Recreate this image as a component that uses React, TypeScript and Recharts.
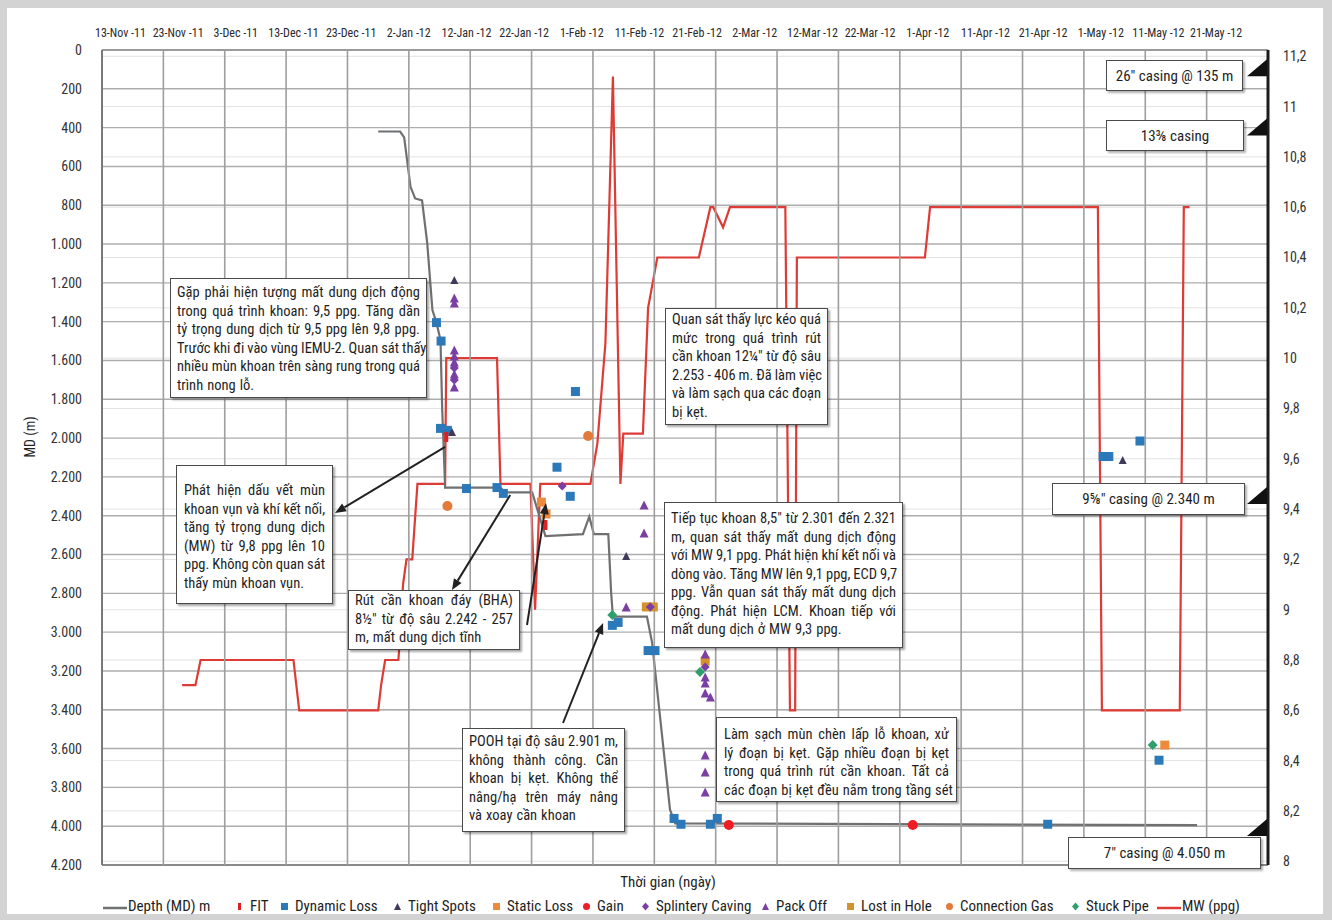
import {
  CartesianGrid,
  ComposedChart,
  Line,
  ReferenceDot,
  ReferenceLine,
  Scatter,
  XAxis,
  YAxis,
} from 'recharts'

const FONT = '"Liberation Sans Narrow", "Roboto Condensed", "DejaVu Sans Condensed", "Open Sans", sans-serif'

// day 0 = 13-Nov-2011
const DATE_TICKS = [0, 10, 20, 30, 40, 50, 60, 70, 80, 90, 100, 110, 120, 130, 140, 150, 160, 170, 180, 190]
const DATE_LABELS = [
  '13-Nov -11', '23-Nov -11', '3-Dec -11', '13-Dec -11', '23-Dec -11',
  '2-Jan -12', '12-Jan -12', '22-Jan -12', '1-Feb -12', '11-Feb -12',
  '21-Feb -12', '2-Mar -12', '12-Mar -12', '22-Mar -12', '1-Apr -12',
  '11-Apr -12', '21-Apr -12', '1-May -12', '11-May -12', '21-May -12',
]
const GRID_DIVISIONS = 19
const DEPTH_TICKS = [0, 200, 400, 600, 800, 1000, 1200, 1400, 1600, 1800, 2000, 2200, 2400, 2600, 2800, 3000, 3200, 3400, 3600, 3800, 4000, 4200]
const MW_TICKS = [8, 8.2, 8.4, 8.6, 8.8, 9, 9.2, 9.4, 9.6, 9.8, 10, 10.2, 10.4, 10.6, 10.8, 11, 11.2]

// Depth (MD) trace
const DEPTH_DAYS = [44.7, 48.5, 49.2, 50.3, 51.1, 52.3, 53.2, 54.1, 54.8, 55.5, 55.8, 56.0, 56.3, 65.9, 66.7, 71.4, 73.7, 80.2, 81.3, 82.1, 84.6, 85.1, 85.4, 91.3, 92.2, 95.3, 96.2, 186.7]
const DEPTH_MD = [420, 420, 450, 705, 765, 775, 995, 1340, 1405, 1495, 1855, 2010, 2255, 2255, 2280, 2280, 2505, 2495, 2405, 2495, 2495, 2800, 2920, 2920, 3055, 3915, 3985, 3995]

// Mud weight trace (ppg)
const MW_DAYS = [10.7, 13.0, 13.9, 30.0, 31.0, 44.7, 45.2, 45.9, 48.2, 48.5, 49.0, 49.6, 50.6, 51.5, 56.3, 56.5, 65.3, 65.9, 71.1, 71.9, 72.8, 81.5, 82.7, 84.1, 85.4, 86.7, 87.2, 90.6, 91.5, 93.1, 100.3, 102.3, 102.8, 104.5, 105.7, 115.3, 116.1, 117.0, 117.3, 139.5, 140.4, 169.5, 170.2, 183.7, 184.4, 185.4]
const MW_PPG = [8.7, 8.7, 8.8, 8.8, 8.6, 8.6, 8.7, 8.8, 8.8, 8.9, 9.1, 9.2, 9.2, 9.5, 9.5, 10.0, 10.0, 9.5, 9.5, 9.0, 9.5, 9.5, 9.66, 10.06, 11.12, 9.5, 9.7, 9.7, 10.2, 10.4, 10.4, 10.6, 10.6, 10.52, 10.6, 10.6, 8.6, 8.6, 10.4, 10.4, 10.6, 10.6, 8.6, 8.6, 10.6, 10.6]

// Events (day, depth)
const DYNAMIC_LOSS_DAYS = [54.8, 55.6, 55.5, 56.7, 60.0, 65.3, 66.4, 75.7, 78.0, 78.9, 85.3, 86.3, 91.5, 92.7, 96.0, 97.2, 102.3, 103.5, 160.8, 170.4, 171.4, 176.8, 180.1]
const DYNAMIC_LOSS_MD = [1405, 1500, 1950, 1960, 2260, 2255, 2285, 2150, 2300, 1760, 2965, 2950, 3095, 3095, 3960, 3990, 3990, 3960, 3990, 2095, 2095, 2015, 3660]
const TIGHT_SPOT_DAYS = [57.9, 57.5, 87.7, 173.8]
const TIGHT_SPOT_MD = [1185, 1969, 2608, 2113]
const PACK_OFF_DAYS = [57.9, 57.9, 57.9, 57.9, 57.9, 57.9, 57.9, 90.8, 90.8, 87.7, 101.4, 101.4, 101.4, 101.4, 102.3, 101.4, 101.4, 101.4]
const PACK_OFF_MD = [1278, 1304, 1546, 1577, 1608, 1670, 1737, 2345, 2489, 2870, 3113, 3231, 3262, 3314, 3334, 3633, 3721, 3824]
const CAVING_DAYS = [57.9, 57.9, 76.6, 91.9, 101.4]
const CAVING_MD = [1639, 1700, 2247, 2870, 3180]
const STATIC_LOSS_DAYS = [73.0, 73.8, 181.1]
const STATIC_LOSS_MD = [2330, 2391, 3582]
const LOST_IN_HOLE_DAYS = [91.2, 92.4, 101.4]
const LOST_IN_HOLE_MD = [2870, 2870, 3149]
const GAIN_DAYS = [105.5, 137.4]
const GAIN_MD = [3994, 3994]
const FIT_DAYS = [56.5, 73.7]
const FIT_MD = [1994, 2448]
const CONN_GAS_DAYS = [56.7, 81.1]
const CONN_GAS_MD = [2350, 1989]
const STUCK_PIPE_DAYS = [85.3, 100.5, 179.0]
const STUCK_PIPE_MD = [2912, 3205, 3582]

// Casing shoes (MD)
const CASING_MD = [135, 440, 2340, 4050]

const DAY_MIN = -3.2
const DAY_MAX = 199
const MD_MAX = 4200

const CHART_W = 1332
const CHART_H = 920
const MARGIN = { top: 20, right: 14, bottom: 55, left: 32 }
const TOP_AXIS_H = 30
const PLOT_H = CHART_H - MARGIN.top - MARGIN.bottom - TOP_AXIS_H

// vertical grid splits the plot into equal columns, not tied to the date ticks
const GRID_DAYS = Array.from(
  { length: GRID_DIVISIONS + 1 },
  (_, k) => DAY_MIN + (k * (DAY_MAX - DAY_MIN)) / GRID_DIVISIONS,
)

const C = {
  depth: '#6f7072',
  mw: '#dd3b35',
  blue: '#2b79b8',
  tight: '#3f3a5c',
  purple: '#7a3fa3',
  staticLoss: '#ee8a3c',
  lostInHole: '#d4922f',
  gain: '#ee1c24',
  fit: '#e02020',
  gas: '#e27a3a',
  stuck: '#2f9e6b',
  grid: '#adadad',
}

const zip = (days: number[], md: number[]) => days.map((day, i) => ({ day, depth: md[i] }))

const depthData = zip(DEPTH_DAYS, DEPTH_MD)
const mwData = MW_DAYS.map((day, i) => ({ day, mw: MW_PPG[i] }))

type ShapeProps = { cx?: number; cy?: number }

const square = (color: string, s = 9) => (p: ShapeProps) => (
  <rect x={(p.cx ?? 0) - s / 2} y={(p.cy ?? 0) - s / 2} width={s} height={s} fill={color} />
)
const triangle = (color: string, s = 9) => (p: ShapeProps) => {
  const x = p.cx ?? 0
  const y = p.cy ?? 0
  return <polygon points={`${x},${y - s / 2} ${x + s / 2},${y + s / 2} ${x - s / 2},${y + s / 2}`} fill={color} />
}
const diamond = (color: string, s = 9) => (p: ShapeProps) => {
  const x = p.cx ?? 0
  const y = p.cy ?? 0
  return <polygon points={`${x},${y - s / 2} ${x + s / 2},${y} ${x},${y + s / 2} ${x - s / 2},${y}`} fill={color} />
}
const circle = (color: string, r = 5) => (p: ShapeProps) => <circle cx={p.cx} cy={p.cy} r={r} fill={color} />
const bar = (color: string) => (p: ShapeProps) => (
  <rect x={(p.cx ?? 0) - 2} y={(p.cy ?? 0) - 5} width={4} height={10} fill={color} />
)

const EVENTS = [
  { name: 'Dynamic Loss', data: zip(DYNAMIC_LOSS_DAYS, DYNAMIC_LOSS_MD), shape: square(C.blue) },
  { name: 'Static Loss', data: zip(STATIC_LOSS_DAYS, STATIC_LOSS_MD), shape: square(C.staticLoss) },
  { name: 'Lost in Hole', data: zip(LOST_IN_HOLE_DAYS, LOST_IN_HOLE_MD), shape: square(C.lostInHole) },
  { name: 'Stuck Pipe', data: zip(STUCK_PIPE_DAYS, STUCK_PIPE_MD), shape: diamond(C.stuck, 10) },
  { name: 'Connection Gas', data: zip(CONN_GAS_DAYS, CONN_GAS_MD), shape: circle(C.gas) },
  { name: 'Tight Spots', data: zip(TIGHT_SPOT_DAYS, TIGHT_SPOT_MD), shape: triangle(C.tight, 8) },
  { name: 'Pack Off', data: zip(PACK_OFF_DAYS, PACK_OFF_MD), shape: triangle(C.purple, 9) },
  { name: 'Splintery Caving', data: zip(CAVING_DAYS, CAVING_MD), shape: diamond(C.purple, 9) },
  { name: 'FIT', data: zip(FIT_DAYS, FIT_MD), shape: bar(C.fit) },
  { name: 'Gain', data: zip(GAIN_DAYS, GAIN_MD), shape: circle(C.gain) },
]

// callout arrows: anchor in chart units, other end in page pixels
const ARROWS = [
  { day: 56.3, depth: 2045, tx: 335, ty: 513, headAtAnchor: false },
  { day: 67.6, depth: 2293, tx: 452, ty: 590, headAtAnchor: false },
  { day: 73.8, depth: 2335, tx: 527, ty: 625, headAtAnchor: true },
  { day: 83.7, depth: 2953, tx: 563, ty: 723, headAtAnchor: true },
]

const arrowShape = (tx: number, ty: number, headAtAnchor: boolean) => (p: ShapeProps) => {
  const ax = p.cx ?? 0
  const ay = p.cy ?? 0
  const [hx, hy, fx, fy] = headAtAnchor ? [ax, ay, tx, ty] : [tx, ty, ax, ay]
  const ang = Math.atan2(hy - fy, hx - fx)
  const L = 11
  const W = 4.5
  const bx = hx - L * Math.cos(ang)
  const by = hy - L * Math.sin(ang)
  const p1 = `${bx + W * Math.sin(ang)},${by - W * Math.cos(ang)}`
  const p2 = `${bx - W * Math.sin(ang)},${by + W * Math.cos(ang)}`
  return (
    <g>
      <line x1={fx} y1={fy} x2={bx} y2={by} stroke="#222" strokeWidth={2} />
      <polygon points={`${hx},${hy} ${p1} ${p2}`} fill="#222" />
    </g>
  )
}

const shoeShape = (p: ShapeProps) => {
  const x = (p.cx ?? 0) - 1
  const y = p.cy ?? 0
  return <polygon points={`${x - 20},${y} ${x},${y - 17} ${x},${y}`} fill="#111" />
}

// a full-height vertical rule hung from the top of the plot
const vRule = (stroke: string, width: number) => (p: ShapeProps) => (
  <line x1={p.cx} x2={p.cx} y1={p.cy} y2={(p.cy ?? 0) + PLOT_H} stroke={stroke} strokeWidth={width} />
)

const NOTES = [
  {
    left: 170, top: 278, width: 257, height: 120, padTop: 5, padX: 6,
    lines: [
      'Gặp phải hiện tượng mất dung dịch động',
      'trong quá trình khoan: 9,5 ppg. Tăng dần',
      'tỷ trọng dung dịch từ 9,5 ppg lên 9,8 ppg.',
      'Trước khi đi vào vùng IEMU-2. Quan sát thấy',
      'nhiều mùn khoan trên sàng rung trong quá',
      'trình nong lỗ.',
    ],
  },
  {
    left: 176, top: 465, width: 157, height: 139, padTop: 16, padX: 7,
    lines: [
      'Phát hiện dấu vết mùn',
      'khoan vụn và khí kết nối,',
      'tăng tỷ trọng dung dịch',
      '(MW) từ 9,8 ppg lên 10',
      'ppg. Không còn quan sát',
      'thấy mùn khoan vụn.',
    ],
  },
  {
    left: 348, top: 590, width: 172, height: 60, padTop: 1, padX: 6,
    lines: ['Rút cần khoan đáy (BHA)', '8½" từ độ sâu 2.242 - 257', 'm, mất dung dịch tĩnh'],
  },
  {
    left: 462, top: 728, width: 163, height: 104, padTop: 4, padX: 6,
    lines: [
      'POOH tại độ sâu 2.901 m,',
      'không thành công. Cần',
      'khoan bị kẹt. Không thể',
      'nâng/hạ trên máy nâng',
      'và xoay cần khoan',
    ],
  },
  {
    left: 665, top: 308, width: 163, height: 117, padTop: 2, padX: 6,
    lines: [
      'Quan sát thấy lực kéo quá',
      'mức trong quá trình rút',
      'cần khoan 12¼" từ độ sâu',
      '2.253 - 406 m. Đã làm việc',
      'và làm sạch qua các đoạn',
      'bị kẹt.',
    ],
  },
  {
    left: 664, top: 502, width: 239, height: 146, padTop: 7, padX: 6,
    lines: [
      'Tiếp tục khoan 8,5" từ 2.301 đến 2.321',
      'm, quan sát thấy mất dung dịch động',
      'với MW 9,1 ppg. Phát hiện khí kết nối và',
      'dòng vào. Tăng MW lên 9,1 ppg, ECD 9,7',
      'ppg. Vẫn quan sát thấy mất dung dịch',
      'động. Phát hiện LCM. Khoan tiếp với',
      'mất dung dịch ở MW 9,3 ppg.',
    ],
  },
  {
    left: 716, top: 717, width: 241, height: 85, padTop: 8, padX: 7,
    lines: [
      'Làm sạch mùn chèn lấp lỗ khoan, xử',
      'lý đoạn bị kẹt. Gặp nhiều đoạn bị kẹt',
      'trong quá trình rút cần khoan. Tất cả',
      'các đoạn bị kẹt đều nằm trong tầng sét',
    ],
  },
]

const CASING_NOTES = [
  { left: 1106, top: 60, width: 137, height: 31, text: '26" casing @ 135 m' },
  { left: 1106, top: 120, width: 138, height: 31, text: '13⅜ casing' },
  { left: 1052, top: 483, width: 193, height: 32, text: '9⅝" casing @ 2.340 m' },
  { left: 1068, top: 837, width: 193, height: 32, text: '7" casing @ 4.050 m' },
]

const LEGEND = [
  { name: 'Depth (MD) m', x: 103, kind: 'line', color: C.depth },
  { name: 'FIT', x: 234, kind: 'bar', color: C.fit },
  { name: 'Dynamic Loss', x: 279, kind: 'square', color: C.blue },
  { name: 'Tight Spots', x: 392, kind: 'triangle', color: C.tight },
  { name: 'Static Loss', x: 491, kind: 'square', color: C.staticLoss },
  { name: 'Gain', x: 581, kind: 'circle', color: C.gain },
  { name: 'Splintery Caving', x: 640, kind: 'diamond', color: C.purple },
  { name: 'Pack Off', x: 760, kind: 'triangle', color: C.purple },
  { name: 'Lost in Hole', x: 845, kind: 'square', color: C.lostInHole },
  { name: 'Connection Gas', x: 944, kind: 'circle', color: C.gas },
  { name: 'Stuck Pipe', x: 1070, kind: 'diamond', color: C.stuck },
  { name: 'MW (ppg)', x: 1157, kind: 'line', color: C.mw },
]

const fmtDepth = (v: number) => v.toLocaleString('de-DE')
const fmtMw = (v: number) => String(Number(v.toFixed(1))).replace('.', ',')

function Swatch({ kind, color }: { kind: string; color: string }) {
  if (kind === 'line') {
    return (
      <svg width={24} height={10}>
        <line x1={0} y1={7} x2={24} y2={7} stroke={color} strokeWidth={2.5} />
      </svg>
    )
  }
  const shapes: Record<string, JSX.Element> = {
    bar: <rect x={4} y={3} width={3} height={7} fill={color} />,
    square: <rect x={2} y={3} width={7} height={7} fill={color} />,
    triangle: <polygon points="5.5,3 9,10 2,10" fill={color} />,
    circle: <circle cx={5.5} cy={6.5} r={3.5} fill={color} />,
    diamond: <polygon points="5.5,2.5 9,6.5 5.5,10.5 2,6.5" fill={color} />,
  }
  return (
    <svg width={11} height={12}>
      {shapes[kind]}
    </svg>
  )
}

function Note({ note }: { note: (typeof NOTES)[number] }) {
  return (
    <div
      style={{
        position: 'absolute',
        left: note.left,
        top: note.top,
        width: note.width,
        height: note.height,
        boxSizing: 'border-box',
        border: '1.5px solid #4a4a4a',
        background: '#fff',
        boxShadow: '2px 2px 2px rgba(0,0,0,0.35)',
        padding: `${note.padTop}px ${note.padX}px 0 ${note.padX}px`,
        fontFamily: FONT,
        fontSize: 14.5,
        lineHeight: '18.5px',
        color: '#1e1e1e',
      }}
    >
      {note.lines.map((line, i) => {
        const last = i === note.lines.length - 1
        return (
          <div
            key={i}
            style={{
              display: 'flex',
              justifyContent: last ? 'flex-start' : 'space-between',
              columnGap: last ? 4 : 3,
              whiteSpace: 'nowrap',
            }}
          >
            {line.split(' ').map((w, j) => (
              <span key={j}>{w}</span>
            ))}
          </div>
        )
      })}
    </div>
  )
}

export default function App() {
  return (
    <div style={{ position: 'absolute', left: 0, top: 0, width: CHART_W, height: CHART_H, background: '#d3d3d3' }}>
      <div style={{ position: 'absolute', left: 7, top: 8, width: 1316, height: 906, background: '#fff' }} />
      <div style={{ position: 'absolute', left: 0, top: 0 }}>
        <ComposedChart width={CHART_W} height={CHART_H} margin={MARGIN}>
          <XAxis
            xAxisId="date"
            orientation="top"
            type="number"
            dataKey="day"
            domain={[DAY_MIN, DAY_MAX]}
            ticks={DATE_TICKS}
            tickFormatter={(v: number) => DATE_LABELS[DATE_TICKS.indexOf(v)] ?? ''}
            allowDataOverflow
            axisLine={false}
            tickLine={false}
            tickSize={0}
            tickMargin={13}
            height={TOP_AXIS_H}
            interval={0}
            tick={{ fill: '#2a2a2a', fontSize: 12, fontFamily: FONT }}
          />
          <YAxis
            yAxisId="depth"
            dataKey="depth"
            type="number"
            reversed
            domain={[0, MD_MAX]}
            ticks={DEPTH_TICKS}
            interval={0}
            allowDataOverflow
            width={70}
            axisLine={false}
            tickLine={false}
            tickSize={0}
            tickMargin={20}
            tickFormatter={fmtDepth}
            tick={{ fill: '#333', fontSize: 14, fontFamily: FONT }}
            label={{ value: 'MD (m)', angle: -90, position: 'insideLeft', offset: -2, fill: '#222', fontSize: 14, fontFamily: FONT }}
          />
          <YAxis
            yAxisId="mw"
            dataKey="mw"
            orientation="right"
            type="number"
            domain={[7.985, 11.225]}
            ticks={MW_TICKS}
            interval={0}
            allowDataOverflow
            width={50}
            axisLine={false}
            tickLine={false}
            tickSize={0}
            tickMargin={15}
            tickFormatter={fmtMw}
            tick={{ fill: '#333', fontSize: 14, fontFamily: FONT }}
          />

          <CartesianGrid xAxisId="date" yAxisId="mw" vertical={false} stroke="#e2e2e2" strokeWidth={1} />
          <CartesianGrid xAxisId="date" yAxisId="depth" vertical={false} stroke={C.grid} strokeWidth={1.4} />
          {GRID_DAYS.map((d, k) => (
            <ReferenceDot
              key={`g${k}`}
              xAxisId="date"
              yAxisId="depth"
              x={d}
              y={0}
              ifOverflow="visible"
              shape={
                k === 0
                  ? vRule('#7a7a7a', 2)
                  : k === GRID_DIVISIONS
                    ? vRule('#1c1c1c', 3)
                    : vRule('#9e9e9e', 1.6)
              }
            />
          ))}

          <ReferenceLine xAxisId="date" yAxisId="depth" y={0} stroke="#9a9a9a" strokeWidth={2} />
          <ReferenceLine xAxisId="date" yAxisId="depth" y={MD_MAX} stroke="#8a8a8a" strokeWidth={2} />

          <Line
            xAxisId="date"
            yAxisId="mw"
            data={mwData}
            dataKey="mw"
            type="linear"
            stroke={C.mw}
            strokeWidth={2.2}
            dot={false}
            isAnimationActive={false}
          />
          <Line
            xAxisId="date"
            yAxisId="depth"
            data={depthData}
            dataKey="depth"
            type="linear"
            stroke={C.depth}
            strokeWidth={2.2}
            dot={false}
            isAnimationActive={false}
          />

          {EVENTS.map((ev) => (
            <Scatter
              key={ev.name}
              name={ev.name}
              xAxisId="date"
              yAxisId="depth"
              data={ev.data}
              dataKey="depth"
              shape={ev.shape}
              isAnimationActive={false}
            />
          ))}

          {CASING_MD.map((md) => (
            <ReferenceDot
              key={md}
              xAxisId="date"
              yAxisId="depth"
              x={DAY_MAX}
              y={md}
              ifOverflow="visible"
              shape={shoeShape}
            />
          ))}

          {ARROWS.map((a, i) => (
            <ReferenceDot
              key={i}
              xAxisId="date"
              yAxisId="depth"
              x={a.day}
              y={a.depth}
              ifOverflow="visible"
              shape={arrowShape(a.tx, a.ty, a.headAtAnchor)}
            />
          ))}
        </ComposedChart>
      </div>

      {NOTES.map((n, i) => (
        <Note key={i} note={n} />
      ))}

      {CASING_NOTES.map((n) => (
        <div
          key={n.text}
          style={{
            position: 'absolute',
            left: n.left,
            top: n.top,
            width: n.width,
            height: n.height,
            boxSizing: 'border-box',
            border: '1.5px solid #4a4a4a',
            background: '#fff',
            boxShadow: '2px 2px 2px rgba(0,0,0,0.3)',
            display: 'flex',
            alignItems: 'center',
            justifyContent: 'center',
            fontFamily: FONT,
            fontSize: 15,
            color: '#1e1e1e',
          }}
        >
          {n.text}
        </div>
      ))}

      <div
        style={{
          position: 'absolute',
          left: 0,
          width: 1336,
          top: 873,
          textAlign: 'center',
          fontFamily: FONT,
          fontSize: 15,
          color: '#1e1e1e',
        }}
      >
        Thời gian (ngày)
      </div>

      {LEGEND.map((item) => (
        <div
          key={item.name}
          style={{
            position: 'absolute',
            left: item.x,
            top: 897,
            display: 'flex',
            alignItems: 'center',
            gap: item.kind === 'line' ? 1 : 5,
            fontFamily: FONT,
            fontSize: 15,
            color: '#1e1e1e',
            whiteSpace: 'nowrap',
          }}
        >
          <Swatch kind={item.kind} color={item.color} />
          <span>{item.name}</span>
        </div>
      ))}
    </div>
  )
}
